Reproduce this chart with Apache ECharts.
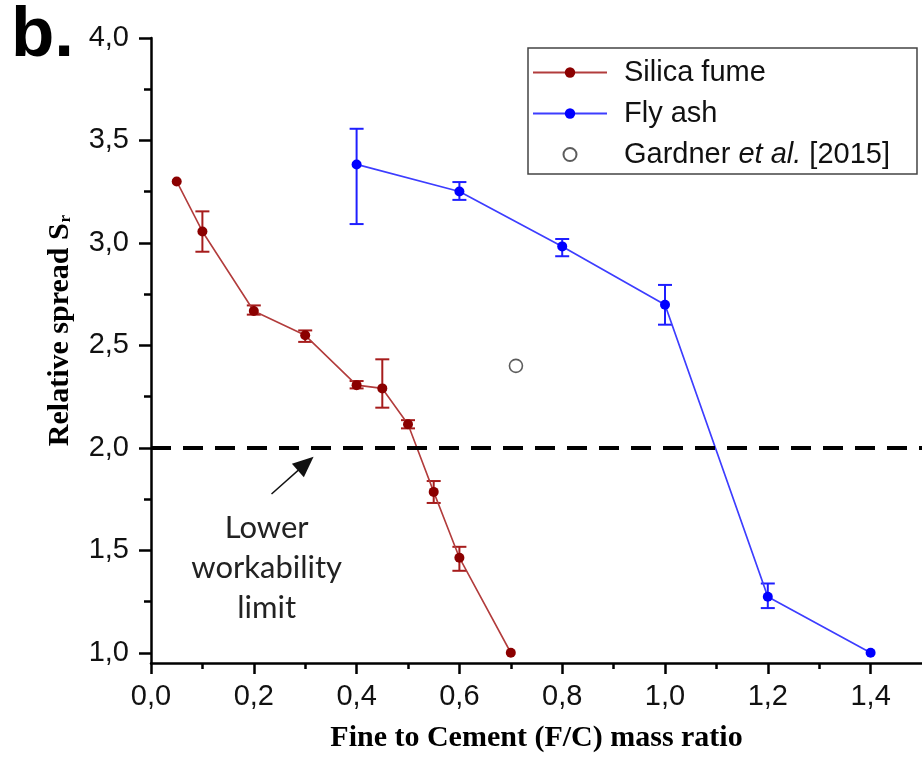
<!DOCTYPE html>
<html>
<head>
<meta charset="utf-8">
<script src="https://cdn.jsdelivr.net/npm/echarts@6/dist/echarts.min.js"></script>
<style>
html,body{margin:0;padding:0;background:#fff;}
#chart{width:922px;height:758px;}
</style>
</head>
<body>
<div id="chart"></div>
<script>
// ---- data ----
const silicaX    = [0.05, 0.10, 0.20, 0.30, 0.40, 0.45, 0.50, 0.55, 0.60, 0.70];
const silicaY    = [3.30, 3.056, 2.668, 2.549, 2.306, 2.29, 2.115, 1.785, 1.464, 1.00];
const silicaLow  = [null, 2.957, 2.650, 2.517, 2.290, 2.196, 2.095, 1.731, 1.400, null];
const silicaHigh = [null, 3.154, 2.695, 2.573, 2.326, 2.432, 2.135, 1.838, 1.517, null];

const flyX    = [0.4, 0.6, 0.8, 1.0, 1.2, 1.4];
const flyY    = [3.383, 3.251, 2.983, 2.698, 1.273, 1.00];
const flyLow  = [3.092, 3.210, 2.935, 2.601, 1.218, null];
const flyHigh = [3.557, 3.297, 3.019, 2.795, 1.338, null];

const gardnerX = [0.71];
const gardnerY = [2.40];

const seriesNames = ['Silica fume', 'Fly ash', 'Gardner et al. [2015]'];

const xMajorTicks = [0, 0.2, 0.4, 0.6, 0.8, 1.0, 1.2, 1.4];
const xMinorTicks = [0.1, 0.3, 0.5, 0.7, 0.9, 1.1, 1.3];
const yMajorTicks = [1.0, 1.5, 2.0, 2.5, 3.0, 3.5, 4.0];
const yMinorTicks = [1.25, 1.75, 2.25, 2.75, 3.25, 3.75];

const limitValue = 2.0;
const arrowFrom = [0.2345, 1.775];
const arrowTo   = [0.301, 1.923];
const noteAt    = [0.225, 1.415];
const noteText  = 'Lower\nworkability\nlimit';

// ---- helpers ----
const zip = (xs, ys) => xs.map((x, i) => [x, ys[i]]);
const errData = (xs, lo, hi) => xs.map((x, i) => [x, lo[i], hi[i]]).filter(d => d[1] != null);
const fmt = v => v.toFixed(1).replace('.', ',');

function errRender(color) {
  return function (params, api) {
    const x = api.value(0), lo = api.value(1), hi = api.value(2);
    const a = api.coord([x, lo]), b = api.coord([x, hi]);
    const w = 7;
    const st = { stroke: color, lineWidth: 2 };
    return {
      type: 'group',
      children: [
        { type: 'line', shape: { x1: a[0], y1: a[1], x2: b[0], y2: b[1] }, style: st },
        { type: 'line', shape: { x1: a[0] - w, y1: a[1], x2: a[0] + w, y2: a[1] }, style: st },
        { type: 'line', shape: { x1: b[0] - w, y1: b[1], x2: b[0] + w, y2: b[1] }, style: st }
      ]
    };
  };
}

const chart = echarts.init(document.getElementById('chart'), null, { renderer: 'canvas' });

const axisFont = 'Liberation Sans, Arial, sans-serif';
const titleFont = 'Liberation Serif, Times New Roman, serif';

const option = {
  animation: false,
  backgroundColor: '#fff',
  title: {
    text: 'b.',
    left: 11, top: 1, padding: 0,
    textStyle: { fontFamily: axisFont, fontWeight: 'bold', fontSize: 71, color: '#000' }
  },
  grid: { left: 151, top: 38, width: 778, height: 628, containLabel: false },
  legend: {
    orient: 'vertical',
    left: 528, top: 48,
    data: seriesNames,
    backgroundColor: '#fff',
    borderColor: '#444', borderWidth: 1.5, borderRadius: 0,
    padding: [9, 27, 4, 4],
    itemGap: 10,
    itemWidth: 74, itemHeight: 13,
    formatter: function (name) {
      if (name === seriesNames[2]) return 'Gardner {i|et al.} [2015]';
      return name;
    },
    textStyle: {
      fontFamily: axisFont, fontSize: 29, color: '#111', lineHeight: 31,
      padding: [0, 0, 0, 12],
      rich: { i: { fontFamily: axisFont, fontSize: 29, fontStyle: 'italic', color: '#111', lineHeight: 31 } }
    }
  },
  xAxis: [
    {
      type: 'value', min: 0, max: 1.5, position: 'bottom',
      name: 'Fine to Cement (F/C) mass ratio', nameLocation: 'middle', nameGap: 60,
      nameTextStyle: { fontFamily: titleFont, fontWeight: 'bold', fontSize: 30, color: '#000' },
      axisLine: { show: true, onZero: false, lineStyle: { color: '#000', width: 2.5 } },
      axisTick: { show: true, customValues: xMajorTicks, length: 11, inside: false, lineStyle: { color: '#000', width: 2.5 } },
      axisLabel: { show: true, customValues: xMajorTicks, margin: 19, formatter: fmt,
        fontFamily: axisFont, fontSize: 29, color: '#111' },
      splitLine: { show: false }
    },
    {
      type: 'value', min: 0, max: 1.5, position: 'bottom',
      axisLine: { show: false, onZero: false },
      axisTick: { show: true, customValues: xMinorTicks, length: 6, inside: false, lineStyle: { color: '#000', width: 2.5 } },
      axisLabel: { show: false },
      splitLine: { show: false }
    }
  ],
  yAxis: [
    {
      type: 'value', min: 0.95, max: 4.0, position: 'left',
      name: '{t|Relative spread S}{s|r}', nameLocation: 'middle', nameRotate: 90, nameGap: 76,
      nameTextStyle: {
        fontFamily: titleFont, fontWeight: 'bold', fontSize: 30, color: '#000',
        padding: [0, 0, 0, 40],
        rich: {
          t: { fontFamily: titleFont, fontWeight: 'bold', fontSize: 30, color: '#000' },
          s: { fontFamily: titleFont, fontWeight: 'bold', fontSize: 17, color: '#000', padding: [12, 0, 0, 1] }
        }
      },
      axisLine: { show: true, onZero: false, lineStyle: { color: '#000', width: 2.5 } },
      axisTick: { show: true, customValues: yMajorTicks, length: 12, inside: false, lineStyle: { color: '#000', width: 2.5 } },
      axisLabel: { show: true, customValues: yMajorTicks, margin: 22, formatter: fmt,
        fontFamily: axisFont, fontSize: 29, color: '#111' },
      splitLine: { show: false }
    },
    {
      type: 'value', min: 0.95, max: 4.0, position: 'left',
      axisLine: { show: false, onZero: false },
      axisTick: { show: true, customValues: yMinorTicks, length: 7, inside: false, lineStyle: { color: '#000', width: 2.5 } },
      axisLabel: { show: false },
      splitLine: { show: false }
    }
  ],
  series: [
    {
      name: 'silica-err', type: 'custom', renderItem: errRender('#a61c1c'),
      data: errData(silicaX, silicaLow, silicaHigh), encode: { x: 0, y: [1, 2] }, z: 2, silent: true
    },
    {
      name: 'fly-err', type: 'custom', renderItem: errRender('#1f1fff'),
      data: errData(flyX, flyLow, flyHigh), encode: { x: 0, y: [1, 2] }, z: 2, silent: true
    },
    {
      name: seriesNames[0], type: 'line', data: zip(silicaX, silicaY),
      symbol: 'circle', symbolSize: 10, z: 4,
      itemStyle: { color: '#8b0000' },
      lineStyle: { color: '#b23c3c', width: 1.6 }
    },
    {
      name: seriesNames[1], type: 'line', data: zip(flyX, flyY),
      symbol: 'circle', symbolSize: 10, z: 4,
      itemStyle: { color: '#0000ff' },
      lineStyle: { color: '#3d3dff', width: 1.7 }
    },
    {
      name: seriesNames[2], type: 'scatter', data: zip(gardnerX, gardnerY),
      symbol: 'circle', symbolSize: 13, z: 4,
      itemStyle: { color: '#fff', borderColor: '#333', borderWidth: 1.6 },
      markLine: {
        silent: true, animation: false,
        label: { show: false },
        data: [
          [{ yAxis: limitValue, x: 151, symbol: 'none', lineStyle: { color: '#000', width: 4, type: [20, 12] } },
           { yAxis: limitValue, x: 922, symbol: 'none' }],
          [{ coord: arrowFrom, symbol: 'none', lineStyle: { color: '#111', width: 1.5, type: 'solid' } },
           { coord: arrowTo, symbol: 'triangle', symbolSize: [18, 21] }]
        ]
      },
      markPoint: {
        silent: true, animation: false,
        symbol: 'circle', symbolSize: 0,
        data: [{ coord: noteAt, value: noteText }],
        label: {
          show: true, position: 'inside', formatter: noteText,
          fontFamily: 'Lato, Open Sans, sans-serif', fontSize: 31, lineHeight: 40, color: '#222', align: 'center'
        }
      }
    }
  ]
};

chart.setOption(option);
</script>
</body>
</html>
